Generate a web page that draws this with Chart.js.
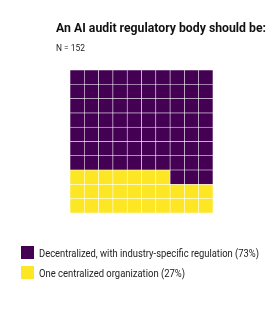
<!DOCTYPE html>
<html>
<head>
<meta charset="utf-8">
<script src="https://cdn.jsdelivr.net/npm/chart.js@4"></script>
<style>
  html, body { margin: 0; padding: 0; background: #ffffff; }
  #wrap { width: 274px; height: 329px; position: relative; }
</style>
</head>
<body>
<div id="wrap"><canvas id="c" width="274" height="329"></canvas></div>
<script>
// ---- data ----
const categories = ["Decentralized, with industry-specific regulation", "One centralized organization"];
const values = [73, 27];
const colors = ["#440154", "#FDE725"];
const titleText = "An AI audit regulatory body should be:";
const subtitleText = "N = 152";
const gridCols = 10;
const gridRows = 10;

// fill order: from bottom-left, row by row, last category first
const fillOrder = [1, 0];
const cellColor = [];
(function () {
  let idx = 0;
  fillOrder.forEach(ci => {
    for (let k = 0; k < values[ci]; k++) { cellColor[idx++] = colors[ci]; }
  });
})();

const colLabels = Array.from({ length: gridCols }, (_, i) => String(i));
const datasets = [];
for (let r = 0; r < gridRows; r++) {
  datasets.push({
    label: 'row' + r,
    data: colLabels.map(() => 1),
    backgroundColor: colLabels.map((_, c) => cellColor[r * gridCols + c] || '#ffffff'),
    borderColor: 'rgba(255,255,255,0.5)',
    borderWidth: 0.6,
    borderSkipped: false,
    barPercentage: 1,
    categoryPercentage: 1
  });
}

function drawFitted(ctx, text, x, y, font, targetWidth, color) {
  ctx.save();
  ctx.font = font;
  ctx.fillStyle = color;
  ctx.textBaseline = 'alphabetic';
  ctx.textAlign = 'left';
  const w = ctx.measureText(text).width;
  const s = targetWidth / w;
  ctx.translate(x, y);
  ctx.scale(s, 1);
  ctx.fillText(text, 0, 0);
  ctx.restore();
}

const textPlugin = {
  id: 'texts',
  afterDraw(chart) {
    const ctx = chart.ctx;
    drawFitted(ctx, titleText, 56, 32, 'bold 13.5px Roboto', 210, '#111111');
    drawFitted(ctx, subtitleText, 56, 51, '8.5px Roboto', 29, '#222222');
    const legendY = [246, 266];
    const widths = [220, 146];
    categories.forEach((cat, i) => {
      ctx.save();
      ctx.fillStyle = colors[i];
      ctx.fillRect(21, legendY[i], 13, 13);
      ctx.restore();
      drawFitted(ctx, cat + ' (' + values[i] + '%)', 39, legendY[i] + 10.5, '10.5px Roboto', widths[i], '#222222');
    });
  }
};

new Chart(document.getElementById('c'), {
  type: 'bar',
  data: { labels: colLabels, datasets },
  options: {
    responsive: false,
    animation: false,
    layout: { padding: { left: 70, right: 61, top: 70, bottom: 116 } },
    scales: {
      x: { stacked: true, display: false },
      y: { stacked: true, display: false, min: 0, max: gridRows }
    },
    plugins: { legend: { display: false }, tooltip: { enabled: false }, title: { display: false } }
  },
  plugins: [textPlugin]
});
</script>
</body>
</html>
